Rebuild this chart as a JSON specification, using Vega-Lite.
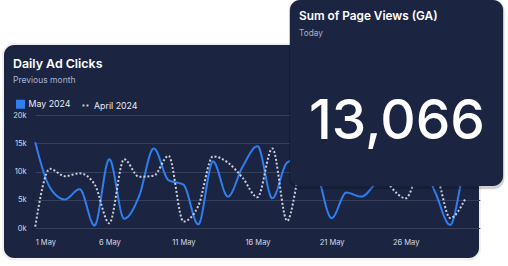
{
  "$schema": "https://vega.github.io/schema/vega-lite/v6.json",
  "width": 475,
  "height": 213,
  "autosize": {"type": "none"},
  "padding": {"left": 4, "top": 45, "right": 29, "bottom": 8},
  "background": "#ffffff",
  "config": {
    "view": {"fill": "#1b2541", "stroke": null, "cornerRadius": 10},
    "font": "Inter"
  },
  "title": {
    "text": "Daily Ad Clicks",
    "subtitle": "Previous month",
    "anchor": "start",
    "frame": "group",
    "offset": -84.5,
    "dx": 9,
    "font": "Inter",
    "fontSize": 12.4,
    "fontWeight": 600,
    "color": "#ffffff",
    "subtitleFont": "Inter",
    "subtitleFontSize": 8.5,
    "subtitleColor": "#a7b3d1",
    "subtitlePadding": 6
  },
  "datasets": {
    "clicks": [
      {"day": 1, "series": "May 2024", "clicks": 15200},
      {"day": 2, "series": "May 2024", "clicks": 7200},
      {"day": 3, "series": "May 2024", "clicks": 5100},
      {"day": 4, "series": "May 2024", "clicks": 6900},
      {"day": 5, "series": "May 2024", "clicks": 500},
      {"day": 6, "series": "May 2024", "clicks": 12200},
      {"day": 7, "series": "May 2024", "clicks": 1700},
      {"day": 8, "series": "May 2024", "clicks": 5600},
      {"day": 9, "series": "May 2024", "clicks": 14100},
      {"day": 10, "series": "May 2024", "clicks": 8500},
      {"day": 11, "series": "May 2024", "clicks": 7700},
      {"day": 12, "series": "May 2024", "clicks": 700},
      {"day": 13, "series": "May 2024", "clicks": 11800},
      {"day": 14, "series": "May 2024", "clicks": 5600},
      {"day": 15, "series": "May 2024", "clicks": 10900},
      {"day": 16, "series": "May 2024", "clicks": 14500},
      {"day": 17, "series": "May 2024", "clicks": 5300},
      {"day": 18, "series": "May 2024", "clicks": 11600},
      {"day": 19, "series": "May 2024", "clicks": 12500},
      {"day": 20, "series": "May 2024", "clicks": 9800},
      {"day": 21, "series": "May 2024", "clicks": 1800},
      {"day": 22, "series": "May 2024", "clicks": 6300},
      {"day": 23, "series": "May 2024", "clicks": 5600},
      {"day": 24, "series": "May 2024", "clicks": 8000},
      {"day": 25, "series": "May 2024", "clicks": 10500},
      {"day": 26, "series": "May 2024", "clicks": 12500},
      {"day": 27, "series": "May 2024", "clicks": 11800},
      {"day": 28, "series": "May 2024", "clicks": 6300},
      {"day": 29, "series": "May 2024", "clicks": 600},
      {"day": 30, "series": "May 2024", "clicks": 10500},
      {"day": 31, "series": "May 2024", "clicks": 13000},
      {"day": 1, "series": "April 2024", "clicks": 300},
      {"day": 2, "series": "April 2024", "clicks": 10500},
      {"day": 3, "series": "April 2024", "clicks": 9200},
      {"day": 4, "series": "April 2024", "clicks": 9700},
      {"day": 5, "series": "April 2024", "clicks": 7800},
      {"day": 6, "series": "April 2024", "clicks": 900},
      {"day": 7, "series": "April 2024", "clicks": 12200},
      {"day": 8, "series": "April 2024", "clicks": 9100},
      {"day": 9, "series": "April 2024", "clicks": 9300},
      {"day": 10, "series": "April 2024", "clicks": 12800},
      {"day": 11, "series": "April 2024", "clicks": 1200},
      {"day": 12, "series": "April 2024", "clicks": 3900},
      {"day": 13, "series": "April 2024", "clicks": 12700},
      {"day": 14, "series": "April 2024", "clicks": 11600},
      {"day": 15, "series": "April 2024", "clicks": 8900},
      {"day": 16, "series": "April 2024", "clicks": 5500},
      {"day": 17, "series": "April 2024", "clicks": 14100},
      {"day": 18, "series": "April 2024", "clicks": 1300},
      {"day": 19, "series": "April 2024", "clicks": 11000},
      {"day": 20, "series": "April 2024", "clicks": 12000},
      {"day": 21, "series": "April 2024", "clicks": 11000},
      {"day": 22, "series": "April 2024", "clicks": 12500},
      {"day": 23, "series": "April 2024", "clicks": 10000},
      {"day": 24, "series": "April 2024", "clicks": 11000},
      {"day": 25, "series": "April 2024", "clicks": 7300},
      {"day": 26, "series": "April 2024", "clicks": 5300},
      {"day": 27, "series": "April 2024", "clicks": 10000},
      {"day": 28, "series": "April 2024", "clicks": 9500},
      {"day": 29, "series": "April 2024", "clicks": 1800},
      {"day": 30, "series": "April 2024", "clicks": 5100}
    ],
    "kpi": [
      {"metric": "Sum of Page Views (GA)", "period": "Today", "value": 13066}
    ]
  },
  "layer": [
    {
      "data": {"name": "kpi"},
      "mark": {"type": "rect", "cornerRadius": 11, "fill": null, "stroke": "#000000", "strokeWidth": 2, "strokeOpacity": 0.06},
      "encoding": {
        "x": {"datum": -1.173},
        "x2": {"datum": 31.013},
        "y": {"datum": 32523},
        "y2": {"datum": -5506}
      }
    },
    {
      "data": {"name": "clicks"},
      "mark": {"type": "line", "interpolate": "monotone", "strokeWidth": 2},
      "encoding": {
        "x": {
          "field": "day",
          "type": "quantitative",
          "scale": {"domain": [1, 31], "range": [31.2, 475.8], "nice": false, "zero": false},
          "axis": {
            "values": [1, 6, 11, 16, 21, 26],
            "labelExpr": "datum.value + ' May'",
            "labelFlush": true,
            "domain": false,
            "ticks": false,
            "grid": false,
            "title": null,
            "offset": -29.7,
            "labelPadding": 10.5,
            "labelFont": "Inter",
            "labelFontSize": 7.5,
            "labelColor": "#d5dae5"
          }
        },
        "y": {
          "field": "clicks",
          "type": "quantitative",
          "scale": {"domain": [0, 20000], "range": [183.3, 70], "nice": false},
          "axis": {
            "values": [0, 5000, 10000, 15000, 20000],
            "format": "~s",
            "domain": false,
            "ticks": false,
            "grid": true,
            "gridColor": "#36405a",
            "gridWidth": 1,
            "title": null,
            "offset": -31.2,
            "labelPadding": 9,
            "labelFont": "Inter",
            "labelFontSize": 7.5,
            "labelColor": "#d5dae5"
          }
        },
        "color": {
          "field": "series",
          "type": "nominal",
          "scale": {"domain": ["May 2024", "April 2024"], "range": ["#2f7ff0", "#c9d0de"]},
          "legend": {
            "orient": "none",
            "legendX": 11.5,
            "legendY": 54,
            "direction": "horizontal",
            "title": null,
            "padding": 0,
            "labelFont": "Inter",
            "labelFontSize": 8.8,
            "labelColor": "#e8ebf2",
            "symbolSize": 50,
            "symbolStrokeWidth": 2,
            "columnPadding": 7.5,
            "labelOffset": 3,
            "encode": {
              "symbols": {
                "update": {
                  "shape": {"signal": "datum.value === 'May 2024' ? 'square' : 'stroke'"},
                  "fill": {"signal": "datum.value === 'May 2024' ? '#2f7ff0' : 'transparent'"},
                  "stroke": {"signal": "datum.value === 'May 2024' ? 'transparent' : '#c9d0de'"},
                  "strokeDash": {"signal": "datum.value === 'May 2024' ? [1, 0] : [1.6, 1.4]"}
                }
              }
            }
          }
        },
        "strokeDash": {
          "field": "series",
          "type": "nominal",
          "scale": {"domain": ["May 2024", "April 2024"], "range": [[1, 0], [2, 2]]},
          "legend": null
        }
      }
    },
    {
      "data": {"name": "kpi"},
      "mark": {"type": "rect", "cornerRadius": 11, "fill": "#000000", "opacity": 0.18},
      "encoding": {
        "x": {"datum": 18.12},
        "x2": {"datum": 32.66},
        "y": {"datum": 40295},
        "y2": {"datum": 6900}
      }
    },
    {
      "data": {"name": "kpi"},
      "mark": {"type": "rect", "cornerRadius": 10, "fill": "#1b2541"},
      "encoding": {
        "x": {"datum": 18.19},
        "x2": {"datum": 32.57},
        "y": {"datum": 40295},
        "y2": {"datum": 7466}
      }
    },
    {
      "data": {"name": "kpi"},
      "mark": {"type": "text", "align": "left", "baseline": "alphabetic", "font": "Inter", "fontSize": 11.8, "fontWeight": 600, "color": "#ffffff"},
      "encoding": {
        "x": {"datum": 18.8},
        "y": {"datum": 36759},
        "text": {"field": "metric"}
      }
    },
    {
      "data": {"name": "kpi"},
      "mark": {"type": "text", "align": "left", "baseline": "alphabetic", "font": "Inter", "fontSize": 8.3, "color": "#a7b3d1"},
      "encoding": {
        "x": {"datum": 18.8},
        "y": {"datum": 34023},
        "text": {"field": "period"}
      }
    },
    {
      "data": {"name": "kpi"},
      "mark": {"type": "text", "align": "center", "baseline": "alphabetic", "font": "Inter", "fontSize": 55, "fontWeight": 500, "color": "#ffffff"},
      "encoding": {
        "x": {"datum": 25.41},
        "y": {"datum": 15706},
        "text": {"field": "value", "type": "quantitative", "format": ","}
      }
    }
  ]
}
